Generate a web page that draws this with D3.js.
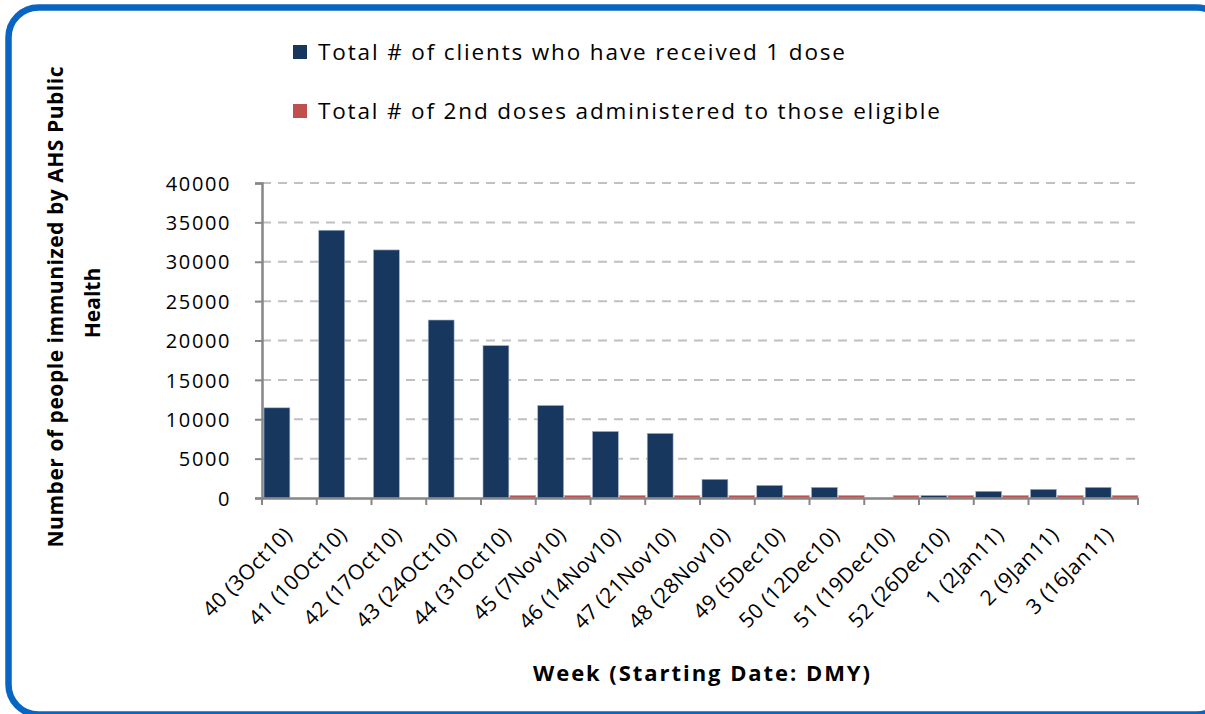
<!DOCTYPE html>
<html>
<head>
<meta charset="utf-8">
<title>AHS Public Health immunizations by week</title>
<script src="https://d3js.org/d3.v7.min.js"></script>
<style>
html, body { margin: 0; padding: 0; background: #ffffff; }
svg text { font-family: 'Open Sans', 'Noto Sans', sans-serif; fill: #000000; }
.y_lab { font-size: 20px; letter-spacing: 1.6px; }
.x_lab { font-size: 21px; letter-spacing: 0.4px; }
.leg text { font-size: 22.5px; }
.ttl { font-weight: 700; font-size: 21px; }
.ttl_x { font-weight: 700; font-size: 22px; }
</style>
</head>
<body>
<svg id="chart" width="1205" height="714"></svg>
<script>
// weeks on the x axis
var weeks = ["40 (3Oct10)", "41 (10Oct10)", "42 (17Oct10)", "43 (24OCt10)",
             "44 (31Oct10)", "45 (7Nov10)", "46 (14Nov10)", "47 (21Nov10)",
             "48 (28Nov10)", "49 (5Dec10)", "50 (12Dec10)", "51 (19Dec10)",
             "52 (26Dec10)", "1 (2Jan11)", "2 (9Jan11)", "3 (16Jan11)"];

// Total # of clients who have received 1 dose
var first_dose = [11450, 34000, 31500, 22600, 19350, 11750, 8450, 8200,
                  2370, 1600, 1350, 0, 320, 850, 1100, 1350];

// Total # of 2nd doses administered to those eligible
var second_dose = [0, 0, 0, 0, 330, 330, 330, 330,
                   330, 330, 330, 330, 330, 330, 330, 330];

var y_ticks = [0, 5000, 10000, 15000, 20000, 25000, 30000, 35000, 40000];

var series_names = ["Total # of clients who have received 1 dose",
                    "Total # of 2nd doses administered to those eligible"];
var series_cols = ["#17375e", "#c0504d"];

var svg = d3.select("#chart");

// rounded blue frame, runs off the right and bottom edges
svg.append("rect")
   .attr("x", 8.5).attr("y", 7.5)
   .attr("width", 1218).attr("height", 707)
   .attr("rx", 30).attr("ry", 30)
   .attr("fill", "none")
   .attr("stroke", "#0866c2")
   .attr("stroke-width", 6.5);

var plot_left = 262, plot_right = 1138, plot_top = 183, plot_bottom = 498;

var scale_x = d3.scaleBand().domain(weeks).range([plot_left, plot_right]).padding(0);
var scale_sub = d3.scaleBand().domain([0, 1])
                  .range([2, scale_x.bandwidth()]).paddingInner(0.04);
var scale_y = d3.scaleLinear().domain([0, 40000]).range([plot_bottom, plot_top]);

// dashed grid
svg.append("g")
   .selectAll("line")
   .data(y_ticks.filter(function(d) { return d > 0; }))
   .enter()
   .append("line")
   .attr("x1", plot_left).attr("x2", plot_right - 2)
   .attr("y1", function(d) { return scale_y(d); })
   .attr("y2", function(d) { return scale_y(d); })
   .attr("stroke", "#c0c0c0")
   .attr("stroke-width", 2)
   .attr("stroke-dasharray", "9,7");

// bars
var rows = weeks.map(function(w, i) { return { week: w, vals: [first_dose[i], second_dose[i]] }; });

var groups = svg.append("g")
   .selectAll("g")
   .data(rows)
   .enter()
   .append("g")
   .attr("transform", function(d) { return "translate(" + scale_x(d.week) + ",0)"; });

groups.selectAll("rect")
   .data(function(d) { return d.vals; })
   .enter()
   .append("rect")
   .attr("x", function(d, i) { return scale_sub(i); })
   .attr("width", scale_sub.bandwidth())
   .attr("y", function(d) { return scale_y(d); })
   .attr("height", function(d) { return plot_bottom - scale_y(d); })
   .attr("fill", function(d, i) { return series_cols[i]; })
   .attr("stroke", function(d, i) { return d > 0 ? (i == 0 ? "#9fb1c9" : "#e3a09e") : "none"; })
   .attr("stroke-width", 0.6);

// y axis
var y_axis = d3.axisLeft(scale_y)
               .tickValues(y_ticks)
               .tickSize(7)
               .tickPadding(24)
               .tickFormat(d3.format("d"));

var gy = svg.append("g")
   .attr("transform", "translate(" + plot_left + ",0)")
   .call(y_axis);
gy.select(".domain").attr("stroke", "#868686").attr("stroke-width", 2.5);
gy.selectAll(".tick line").attr("stroke", "#868686").attr("stroke-width", 2);
gy.selectAll(".tick text").attr("class", "y_lab").attr("dy", "0.36em");

// x axis: labels from the axis, ticks at the band edges
var x_axis = d3.axisBottom(scale_x).tickSize(0).tickPadding(0);
var gx = svg.append("g")
   .attr("transform", "translate(0," + plot_bottom + ")")
   .call(x_axis);
gx.select(".domain").attr("stroke", "#868686").attr("stroke-width", 2.5);
gx.selectAll(".tick text")
  .attr("class", "x_lab")
  .attr("text-anchor", "end")
  .attr("y", 0).attr("dy", 0)
  .attr("transform", "translate(4,38) rotate(-45)");

var edges = weeks.map(function(w) { return scale_x(w); }).concat([plot_right]);
gx.selectAll(".edge")
  .data(edges)
  .enter()
  .append("line")
  .attr("class", "edge")
  .attr("x1", function(d) { return d; }).attr("x2", function(d) { return d; })
  .attr("y1", 0).attr("y2", 7)
  .attr("stroke", "#868686").attr("stroke-width", 2);

// legend
var leg = svg.append("g").attr("class", "leg");
var leg_y = [45, 104];
var leg_w = [527, 622];
series_names.forEach(function(s, i) {
  leg.append("rect")
     .attr("x", 293).attr("y", leg_y[i])
     .attr("width", 14).attr("height", 14)
     .attr("fill", series_cols[i]);
  leg.append("text")
     .attr("x", 318).attr("y", leg_y[i] + 15)
     .attr("textLength", leg_w[i])
     .attr("lengthAdjust", "spacing")
     .text(s);
});

// axis titles
svg.append("text")
   .attr("class", "ttl")
   .attr("text-anchor", "middle")
   .attr("transform", "translate(63,307) rotate(-90)")
   .attr("textLength", 481)
   .attr("lengthAdjust", "spacing")
   .text("Number of people immunized by AHS Public");
svg.append("text")
   .attr("class", "ttl")
   .attr("text-anchor", "middle")
   .attr("transform", "translate(100,303) rotate(-90)")
   .text("Health");

svg.append("text")
   .attr("class", "ttl_x")
   .attr("x", 533).attr("y", 681)
   .attr("textLength", 337)
   .attr("lengthAdjust", "spacing")
   .text("Week (Starting Date: DMY)");
</script>
</body>
</html>
